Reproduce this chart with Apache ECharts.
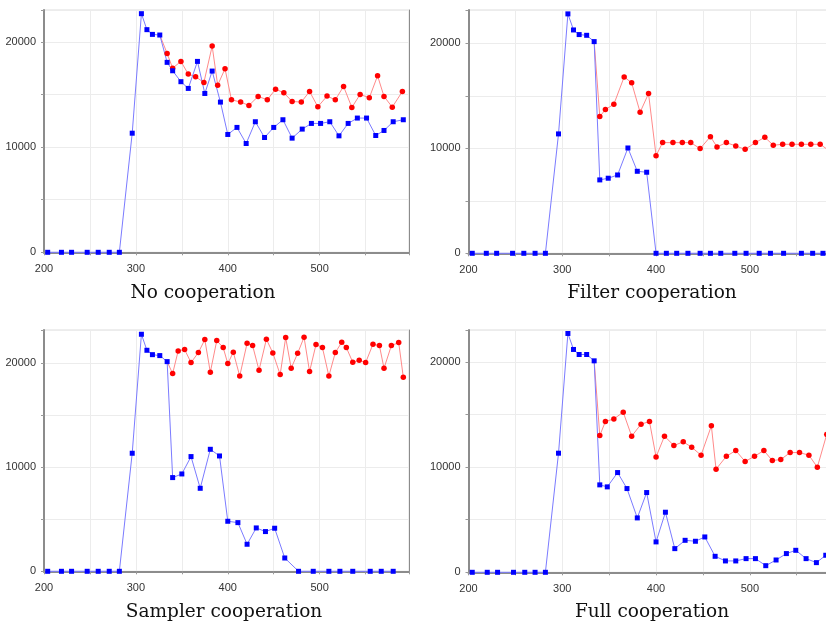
<!DOCTYPE html>
<html>
<head>
<meta charset="utf-8">
<script src="https://cdn.jsdelivr.net/npm/echarts@6/dist/echarts.min.js"></script>
<style>
  html, body { margin: 0; padding: 0; background: #fff; }
  #chart { width: 826px; height: 623px; }
</style>
</head>
<body>
<div id="chart"></div>
<script>
// panel titles
var titles = ['No cooperation', 'Filter cooperation', 'Sampler cooperation', 'Full cooperation'];

// No cooperation
var noBlueX = [204, 219, 230, 247, 259, 271, 282, 296, 306, 312, 318, 326, 334, 340, 349, 357, 367, 375, 383, 392, 400, 410, 420, 430, 440, 450, 460, 470, 481, 491, 501, 511, 521, 531, 541, 551, 561, 570, 580, 591];
var noBlueY = [0, 0, 0, 0, 0, 0, 0, 11330, 22700, 21180, 20730, 20670, 18070, 17270, 16230, 15590, 18160, 15110, 17240, 14290, 11210, 11880, 10350, 12420, 10920, 11880, 12610, 10860, 11720, 12260, 12260, 12420, 11080, 12260, 12770, 12770, 11110, 11590, 12420, 12610];
var noRedX = [326, 334, 340, 349, 357, 365, 374, 383, 389, 397, 404, 414, 423, 433, 443, 452, 461, 470, 480, 489, 498, 508, 517, 526, 535, 544, 554, 563, 570, 579, 590];
var noRedY = [20670, 18920, 17520, 18160, 16950, 16700, 16160, 19620, 15900, 17460, 14510, 14290, 13970, 14830, 14510, 15520, 15170, 14350, 14290, 15300, 13840, 14860, 14510, 15780, 13780, 15020, 14700, 16790, 14830, 13810, 15300];

// Filter cooperation
var filterBlueX = [204, 219, 230, 247, 259, 271, 282, 296, 306, 312, 318, 326, 334, 340, 349, 359, 370, 380, 390, 400, 411, 422, 434, 447, 458, 469, 484, 496, 510, 522, 536, 555, 567, 578];
var filterBlueY = [0, 0, 0, 0, 0, 0, 0, 11370, 22800, 21270, 20830, 20760, 20160, 6990, 7150, 7460, 10030, 7810, 7720, 0, 0, 0, 0, 0, 0, 0, 0, 0, 0, 0, 0, 0, 0, 0];
var filterRedX = [334, 340, 346, 355, 366, 374, 383, 392, 400, 407, 418, 428, 437, 447, 458, 465, 475, 485, 495, 506, 516, 525, 535, 545, 555, 565, 575, 585];
var filterRedY = [20160, 13020, 13690, 14190, 16800, 16230, 13430, 15210, 9300, 10540, 10540, 10540, 10540, 9970, 11110, 10130, 10540, 10220, 9900, 10540, 11050, 10290, 10380, 10380, 10380, 10380, 10380, 9750];

// Sampler cooperation
var samplerBlueX = [204, 219, 230, 247, 259, 271, 282, 296, 306, 312, 318, 326, 334, 340, 350, 360, 370, 381, 391, 400, 411, 421, 431, 441, 451, 462, 477, 493, 510, 522, 536, 555, 567, 580];
var samplerBlueY = [0, 0, 0, 0, 0, 0, 0, 11350, 22790, 21250, 20830, 20740, 20160, 9010, 9360, 11030, 7980, 11730, 11090, 4810, 4680, 2600, 4170, 3820, 4140, 1280, 0, 0, 0, 0, 0, 0, 0, 0];
var samplerRedX = [334, 340, 346, 353, 360, 368, 375, 381, 388, 395, 400, 406, 413, 421, 427, 434, 442, 449, 457, 463, 469, 476, 483, 489, 496, 503, 510, 517, 524, 529, 536, 543, 550, 558, 565, 570, 578, 586, 591];
var samplerRedY = [20160, 19010, 21190, 21320, 20070, 21030, 22280, 19140, 22180, 21510, 19970, 21060, 18780, 21920, 21700, 19330, 22310, 21000, 18910, 22470, 19520, 20960, 22500, 19200, 21800, 21510, 18780, 21030, 22020, 21510, 20100, 20290, 20070, 21830, 21700, 19520, 21700, 21990, 18660];

// Full cooperation
var fullBlueX = [204, 220, 231, 248, 260, 271, 282, 296, 306, 312, 318, 326, 334, 340, 348, 359, 369, 380, 390, 400, 410, 420, 431, 442, 452, 463, 474, 485, 496, 506, 517, 528, 539, 549, 560, 571, 581];
var fullBlueY = [0, 0, 0, 0, 0, 0, 0, 11320, 22700, 21180, 20700, 20700, 20100, 8310, 8120, 9480, 7960, 5170, 7580, 2890, 5710, 2250, 3040, 2950, 3360, 1520, 1080, 1080, 1300, 1300, 630, 1170, 1780, 2090, 1300, 920, 1620];
var fullRedX = [334, 340, 346, 355, 365, 374, 384, 393, 400, 409, 419, 429, 438, 448, 459, 464, 475, 485, 495, 505, 515, 524, 533, 543, 553, 563, 572, 582];
var fullRedY = [20100, 13000, 14330, 14580, 15220, 12940, 14080, 14330, 10970, 12940, 12050, 12400, 11890, 11130, 13920, 9800, 11030, 11570, 10530, 11030, 11570, 10620, 10720, 11380, 11380, 11130, 9990, 13100];

var xTicks = [200, 300, 400, 500];
var yTicks = [0, 10000, 20000];

var panels = [
  { blueX: noBlueX, blueY: noBlueY, redX: noRedX, redY: noRedY },
  { blueX: filterBlueX, blueY: filterBlueY, redX: filterRedX, redY: filterRedY },
  { blueX: samplerBlueX, blueY: samplerBlueY, redX: samplerRedX, redY: samplerRedY },
  { blueX: fullBlueX, blueY: fullBlueY, redX: fullRedX, redY: fullRedY }
];

// layout of each plot box (right column runs past the page edge, as in the source)
var boxes = [
  { left: 44, top: 10, width: 365, height: 242.3, xMax: 597.2, yMax: 23050 },
  { left: 468.5, top: 10, width: 372, height: 243.3, xMax: 596.7, yMax: 23170 },
  { left: 44, top: 330, width: 365, height: 241.3, xMax: 597.2, yMax: 23200 },
  { left: 468.5, top: 330, width: 372, height: 242.3, xMax: 596.7, yMax: 23030 }
];
var titlePos = [[203, 293], [652, 293], [224, 612], [652, 612]];

function zip(xs, ys) {
  var out = [];
  for (var i = 0; i < xs.length; i++) out.push([xs[i], ys[i]]);
  return out;
}

var grid = [], xAxis = [], yAxis = [], series = [], graphic = [];
var labelStyle = { color: '#333', fontSize: 11, fontFamily: 'Liberation Sans, Arial, sans-serif' };

boxes.forEach(function (b, i) {
  grid.push({ left: b.left, top: b.top, width: b.width, height: b.height,
    outerBoundsMode: 'none', containLabel: false,
    show: true, borderColor: '#dcdcdc', borderWidth: 1, backgroundColor: '#fff' });

  // bottom / left axes
  xAxis.push({
    type: 'value', gridIndex: i, min: 200, max: b.xMax, interval: 50, offset: 4,
    axisLine: { show: true, lineStyle: { color: '#8c8c8c', width: 2 } },
    axisTick: { show: true, length: 3, lineStyle: { color: '#999' } },
    axisLabel: Object.assign({ margin: 7, formatter: function (v) {
      return xTicks.indexOf(v) >= 0 ? String(v) : '';
    } }, labelStyle),
    splitLine: { show: true, lineStyle: { color: '#ececec', width: 1 } }
  });
  yAxis.push({
    type: 'value', gridIndex: i, min: 0, max: b.yMax, interval: 5000, offset: 4,
    axisLine: { show: true, lineStyle: { color: '#8c8c8c', width: 2 } },
    axisTick: { show: true, length: 3, lineStyle: { color: '#999' } },
    axisLabel: Object.assign({ margin: 4, formatter: function (v) {
      return yTicks.indexOf(v) >= 0 ? String(v) : '';
    } }, labelStyle),
    splitLine: { show: true, lineStyle: { color: '#ececec', width: 1 } }
  });
});

// top / right frame lines
boxes.forEach(function (b, i) {
  xAxis.push({ type: 'value', gridIndex: i, position: 'top', min: 0, max: 1,
    axisLine: { show: true, lineStyle: { color: '#8c8c8c', width: 1 } },
    axisTick: { show: false }, axisLabel: { show: false }, splitLine: { show: false } });
  yAxis.push({ type: 'value', gridIndex: i, position: 'right', min: 0, max: 1,
    axisLine: { show: true, lineStyle: { color: '#8c8c8c', width: 1 } },
    axisTick: { show: false }, axisLabel: { show: false }, splitLine: { show: false } });
});

panels.forEach(function (p, i) {
  var red = zip(p.redX, p.redY).map(function (d, k) {
    return k === 0 ? { value: d, symbol: 'none' } : d;
  });
  series.push({
    type: 'line', xAxisIndex: i, yAxisIndex: i, data: red, clip: true,
    symbol: 'circle', symbolSize: 5.5, showAllSymbol: true,
    lineStyle: { color: '#ff8a8a', width: 1 },
    itemStyle: { color: '#ff0000' },
    emphasis: { disabled: true }, animation: false
  });
  series.push({
    type: 'line', xAxisIndex: i, yAxisIndex: i, data: zip(p.blueX, p.blueY), clip: false,
    symbol: 'rect', symbolSize: 5, showAllSymbol: true,
    lineStyle: { color: '#7b7bff', width: 1 },
    itemStyle: { color: '#0000ff' },
    emphasis: { disabled: true }, animation: false
  });
});

titles.forEach(function (t, i) {
  graphic.push({
    type: 'text', x: titlePos[i][0], y: titlePos[i][1],
    style: { text: t, font: '18.5px "DejaVu Serif", serif', fill: '#111',
      align: 'center', verticalAlign: 'middle' }
  });
});

var chart = echarts.init(document.getElementById('chart'), null, { renderer: 'canvas' });
chart.setOption({
  animation: false,
  grid: grid, xAxis: xAxis, yAxis: yAxis, series: series, graphic: graphic
});
</script>
</body>
</html>
